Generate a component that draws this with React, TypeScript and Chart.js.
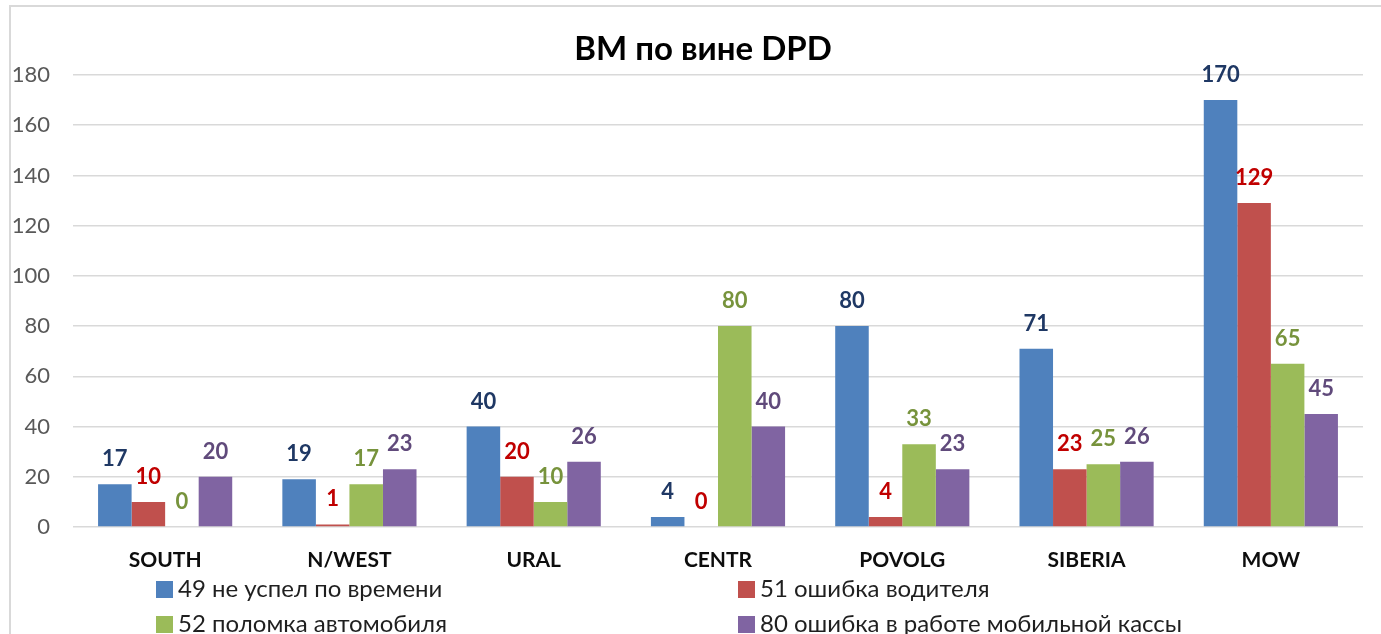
import React, { useEffect, useRef } from "react";
import { Chart, registerables } from "chart.js";

Chart.register(...registerables);

const chartTitle = "ВМ по вине DPD";
const categories = ["SOUTH", "N/WEST", "URAL", "CENTR", "POVOLG", "SIBERIA", "MOW"];
const seriesNames = [
  "49 не успел по времени",
  "51 ошибка водителя",
  "52 поломка автомобиля",
  "80 ошибка в работе мобильной кассы",
];
const lateValues = [17, 19, 40, 4, 80, 71, 170];
const driverErrorValues = [10, 1, 20, 0, 4, 23, 129];
const breakdownValues = [0, 17, 10, 80, 33, 25, 65];
const cashboxErrorValues = [20, 23, 26, 40, 23, 26, 45];
const yMin = 0;
const yMax = 180;
const yStep = 20;

const barColors = ["#4F81BD", "#C0504D", "#9BBB59", "#8064A2"];
const labelColors = ["#1F3864", "#C00000", "#77933C", "#604A7B"];
const FONT = "Lato, 'Open Sans', sans-serif";

const W = 1381;
const H = 634;

const overlayPlugin = {
  id: "overlay",
  afterDatasetsDraw(chart: any) {
    const ctx = chart.ctx;
    ctx.save();
    ctx.font = `bold 22px ${FONT}`;
    ctx.textAlign = "center";
    ctx.textBaseline = "alphabetic";
    chart.data.datasets.forEach((ds: any, i: number) => {
      const meta = chart.getDatasetMeta(i);
      meta.data.forEach((el: any, j: number) => {
        ctx.fillStyle = labelColors[i];
        ctx.fillText(String(ds.data[j]), el.x, el.y - 18);
      });
    });
    ctx.restore();
  },
  afterDraw(chart: any) {
    const ctx = chart.ctx;
    ctx.save();
    // outer border (top + left)
    ctx.strokeStyle = "#d9d9d9";
    ctx.lineWidth = 2;
    ctx.beginPath();
    ctx.moveTo(10, H);
    ctx.lineTo(10, 6);
    ctx.lineTo(W, 6);
    ctx.stroke();

    // title
    ctx.fillStyle = "#000000";
    ctx.font = `bold 33px ${FONT}`;
    ctx.textAlign = "center";
    ctx.textBaseline = "alphabetic";
    ctx.fillText(chartTitle, 703, 60);

    // legend (2 columns x 2 rows)
    const colX = [156, 738];
    const rowBase = [597, 632];
    ctx.font = `24px ${FONT}`;
    ctx.textAlign = "left";
    chart.data.datasets.forEach((ds: any, i: number) => {
      const col = i % 2;
      const row = Math.floor(i / 2);
      const x = colX[col];
      const b = rowBase[row];
      ctx.fillStyle = barColors[i];
      ctx.fillRect(x, b - 16, 17, 17);
      ctx.fillStyle = "#1f1f1f";
      ctx.fillText(ds.label, x + 22, b);
    });
    ctx.restore();
  },
};

export default function App() {
  const ref = useRef<HTMLCanvasElement | null>(null);

  useEffect(() => {
    if (!ref.current) return;
    const series = [lateValues, driverErrorValues, breakdownValues, cashboxErrorValues];
    const chart = new Chart(ref.current, {
      type: "bar",
      data: {
        labels: categories,
        datasets: series.map((vals, i) => ({
          label: seriesNames[i],
          data: vals,
          backgroundColor: barColors[i],
          borderWidth: 0,
          categoryPercentage: 0.728,
          barPercentage: 1,
        })),
      },
      options: {
        animation: false,
        responsive: false,
        maintainAspectRatio: false,
        layout: { padding: { left: 0, top: 75, right: 18, bottom: 0 } },
        plugins: {
          legend: { display: false },
          title: { display: false },
          tooltip: { enabled: false },
        },
        scales: {
          x: {
            grid: { display: false },
            border: { display: false },
            ticks: {
              color: "#0d0d0d",
              font: { family: FONT, size: 21, weight: "bold" },
              padding: 13,
              maxRotation: 0,
              autoSkip: false,
            },
            afterFit: (scale: any) => {
              scale.height = H - 527;
            },
          },
          y: {
            min: yMin,
            max: yMax,
            grid: { color: "#d9d9d9", lineWidth: 1.5, drawTicks: false },
            border: { display: false },
            ticks: {
              stepSize: yStep,
              color: "#595959",
              font: { family: FONT, size: 22 },
              padding: 23,
            },
            afterFit: (scale: any) => {
              scale.width = 73;
            },
          },
        },
      },
      plugins: [overlayPlugin],
    });
    return () => chart.destroy();
  }, []);

  return (
    <div style={{ position: "absolute", left: 0, top: 0, width: W, height: H, background: "#fff" }}>
      <canvas ref={ref} width={W} height={H} style={{ display: "block", width: W, height: H }} />
    </div>
  );
}
